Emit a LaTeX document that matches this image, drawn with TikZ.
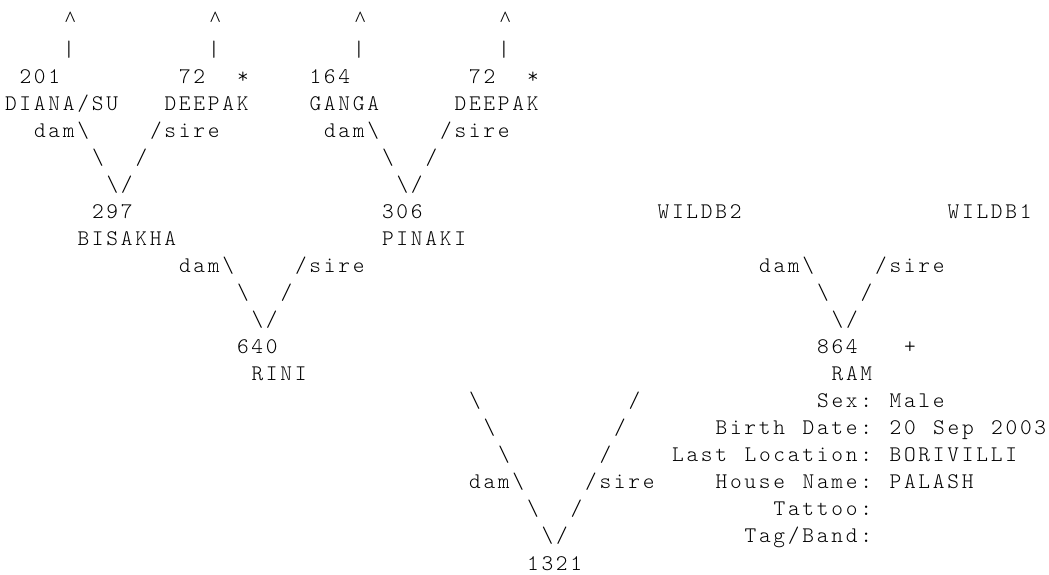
\documentclass[tikz,border=0pt]{standalone}
\usepackage{fontspec}
\newfontfamily\courf[Extension=.otf,LetterSpace=12.5]{lmmonolt10-regular}
\newfontfamily\caretf{Liberation Serif}
\newcommand\bs{\textbackslash}
\newcommand\gl[4]{\node[txt] (#1) at ({5+14.5*(#2)},{29.2+27.04*(#3)}) {#4};}
\newcommand\upmark[2]{\node[caret] (#1) at ({5+14.5*(#2)+7.25},26.5) {\textasciicircum};}
\begin{document}
\begin{tikzpicture}[x=1bp,y=-1bp,
  txt/.style={anchor=base west,inner sep=0pt,outer sep=0pt,text=black,
    font=\courf\fontsize{22.3bp}{27bp}\selectfont},
  caret/.style={anchor=base,inner sep=0pt,outer sep=0pt,text=black,
    font=\caretf\fontsize{22bp}{27bp}\selectfont}]
\fill[white] (0,0) rectangle (1049,575);
\useasboundingbox (0,0) rectangle (1049,575);
% row 0-1: continuation marks
\upmark{upA}{4}
\upmark{upB}{14}
\upmark{upC}{24}
\upmark{upD}{34}
\gl{vbA}{4}{1}{\textbar}
\gl{vbB}{14}{1}{\textbar}
\gl{vbC}{24}{1}{\textbar}
\gl{vbD}{34}{1}{\textbar}
% row 2-3: great-grandparents
\gl{n201}{1}{2}{201}
\gl{n72a}{12}{2}{72}
\gl{stA}{16}{2}{*}
\gl{n164}{21}{2}{164}
\gl{n72b}{32}{2}{72}
\gl{stB}{36}{2}{*}
\gl{nmDiana}{0}{3}{DIANA/SU}
\gl{nmDeepakA}{11}{3}{DEEPAK}
\gl{nmGanga}{21}{3}{GANGA}
\gl{nmDeepakB}{31}{3}{DEEPAK}
% row 4-6
\gl{damA}{2}{4}{dam\bs}
\gl{sireA}{10}{4}{/sire}
\gl{damB}{22}{4}{dam\bs}
\gl{sireB}{30}{4}{/sire}
\gl{lA5}{6}{5}{\bs}
\gl{rA5}{9}{5}{/}
\gl{lB5}{26}{5}{\bs}
\gl{rB5}{29}{5}{/}
\gl{apA}{7}{6}{\bs/}
\gl{apB}{27}{6}{\bs/}
% row 7-8: grandparents
\gl{n297}{6}{7}{297}
\gl{n306}{26}{7}{306}
\gl{wildB}{45}{7}{WILDB2}
\gl{wildA}{65}{7}{WILDB1}
\gl{nmBisakha}{5}{8}{BISAKHA}
\gl{nmPinaki}{26}{8}{PINAKI}
% row 9-11
\gl{damC}{12}{9}{dam\bs}
\gl{sireC}{20}{9}{/sire}
\gl{damD}{52}{9}{dam\bs}
\gl{sireD}{60}{9}{/sire}
\gl{lC10}{16}{10}{\bs}
\gl{rC10}{19}{10}{/}
\gl{lD10}{56}{10}{\bs}
\gl{rD10}{59}{10}{/}
\gl{apC}{17}{11}{\bs/}
\gl{apD}{57}{11}{\bs/}
% row 12-13: parents
\gl{n640}{16}{12}{640}
\gl{n864}{56}{12}{864}
\gl{plus}{62}{12}{+}
\gl{nmRini}{17}{13}{RINI}
\gl{nmRam}{57}{13}{RAM}
% row 14-20: subject
\gl{lE14}{32}{14}{\bs}
\gl{rE14}{43}{14}{/}
\gl{lE15}{33}{15}{\bs}
\gl{rE15}{42}{15}{/}
\gl{lE16}{34}{16}{\bs}
\gl{rE16}{41}{16}{/}
\gl{damE}{32}{17}{dam\bs}
\gl{sireE}{40}{17}{/sire}
\gl{lE18}{36}{18}{\bs}
\gl{rE18}{39}{18}{/}
\gl{apE}{37}{19}{\bs/}
\gl{n1321}{36}{20}{1321}
% info block
\gl{kSex}{56}{14}{Sex:}
\gl{vSex}{61}{14}{Male}
\gl{kBirthA}{49}{15}{Birth}
\gl{kBirthB}{55}{15}{Date:}
\gl{vBirthA}{61}{15}{20}
\gl{vBirthB}{64}{15}{Sep}
\gl{vBirthC}{68}{15}{2003}
\gl{kLastA}{46}{16}{Last}
\gl{kLastB}{51}{16}{Location:}
\gl{vLast}{61}{16}{BORIVILLI}
\gl{kHouseA}{49}{17}{House}
\gl{kHouseB}{55}{17}{Name:}
\gl{vHouse}{61}{17}{PALASH}
\gl{kTattoo}{53}{18}{Tattoo:}
\gl{kTag}{51}{19}{Tag/Band:}
\end{tikzpicture}
\end{document}
